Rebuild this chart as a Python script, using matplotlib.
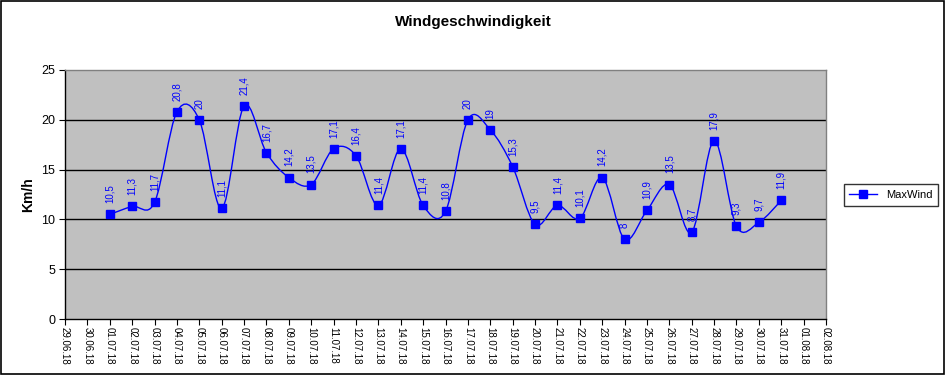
import matplotlib
matplotlib.use("Agg")
import matplotlib.pyplot as plt
from matplotlib.path import Path
from matplotlib.patches import PathPatch, Rectangle
from matplotlib.lines import Line2D
import numpy as np

plt.rcParams['font.family'] = ['Liberation Sans', 'DejaVu Sans']

# x axis categories (dates)
dates = ["29.06.18", "30.06.18"] + ["%02d.07.18" % d for d in range(1, 32)] + ["01.08.18", "02.08.18"]

# MaxWind values for 01.07 .. 31.07
wind_dates = ["%02d.07.18" % d for d in range(1, 32)]
wind = [10.5, 11.3, 11.7, 20.8, 20, 11.1, 21.4, 16.7, 14.2, 13.5,
        17.1, 16.4, 11.4, 17.1, 11.4, 10.8, 20, 19, 15.3, 9.5,
        11.4, 10.1, 14.2, 8, 10.9, 13.5, 8.7, 17.9, 9.3, 9.7, 11.9]

BLUE = "#0000FF"

fig = plt.figure(figsize=(9.46, 3.75), dpi=100)
fig.patch.set_facecolor("white")
# outer chart border
fig.add_artist(Rectangle((0.001, 0.002), 0.997, 0.995, transform=fig.transFigure,
                         fill=False, edgecolor="black", linewidth=1.2))

ax = fig.add_axes([65 / 946, 1 - 319 / 375, (826 - 65) / 946, (319 - 70) / 375])
ax.set_facecolor("#C0C0C0")

x = np.array([dates.index(d) for d in wind_dates], dtype=float)
y = np.array(wind, dtype=float)

# smooth line like Excel (Catmull-Rom bezier through the points)
verts = [(x[0], y[0])]
codes = [Path.MOVETO]
n = len(x)
for i in range(n - 1):
    p0 = (x[i - 1], y[i - 1]) if i > 0 else (x[i], y[i])
    p1 = (x[i], y[i])
    p2 = (x[i + 1], y[i + 1])
    p3 = (x[i + 2], y[i + 2]) if i + 2 < n else p2
    c1 = (p1[0] + (p2[0] - p0[0]) / 6, p1[1] + (p2[1] - p0[1]) / 6)
    c2 = (p2[0] - (p3[0] - p1[0]) / 6, p2[1] - (p3[1] - p1[1]) / 6)
    verts += [c1, c2, p2]
    codes += [Path.CURVE4] * 3
ax.add_patch(PathPatch(Path(verts, codes), fill=False, edgecolor=BLUE, linewidth=1, zorder=3))

ax.plot(x, y, linestyle="none", marker="s", markersize=6, color=BLUE, zorder=4)

for xi, yi in zip(x, y):
    lab = ("%g" % yi).replace(".", ",")
    ax.annotate(lab, (xi, yi), xytext=(0, 8), textcoords="offset points",
                rotation=90, ha="center", va="bottom", fontsize=7, color=BLUE, zorder=5)

ax.set_xlim(0, len(dates) - 1)
ax.set_ylim(0, 25)
ax.set_yticks([0, 5, 10, 15, 20, 25])
ax.set_xticks(range(len(dates)))
ax.set_xticklabels(dates, rotation=-90, fontsize=7)
ax.tick_params(axis="y", labelsize=9, length=4, direction="out", pad=3)
ax.tick_params(axis="x", length=4, direction="out", pad=2)

for v in [5, 10, 15, 20]:
    ax.axhline(v, color="black", linewidth=1, zorder=1)

for side in ["top", "right"]:
    ax.spines[side].set_color("#808080")
    ax.spines[side].set_linewidth(1)
for side in ["left", "bottom"]:
    ax.spines[side].set_color("black")
    ax.spines[side].set_linewidth(1)

ax.set_ylabel("Km/h", fontsize=10, fontweight="bold")
ax.yaxis.set_label_coords(-30 / 761, 0.5)
fig.text(473 / 946, 1 - 22 / 375, "Windgeschwindigkeit", ha="center", va="center",
         fontsize=11, fontweight="bold")

handle = Line2D([], [], color=BLUE, marker="s", markersize=6, linewidth=1)
leg = fig.legend([handle], ["MaxWind"], loc="center", bbox_to_anchor=(891 / 946, 1 - 195 / 375),
                 fontsize=8, frameon=True, fancybox=False, edgecolor="black",
                 handlelength=2.5, borderpad=0.5)
leg.get_frame().set_linewidth(1)

fig.savefig("out.png", dpi=100)
